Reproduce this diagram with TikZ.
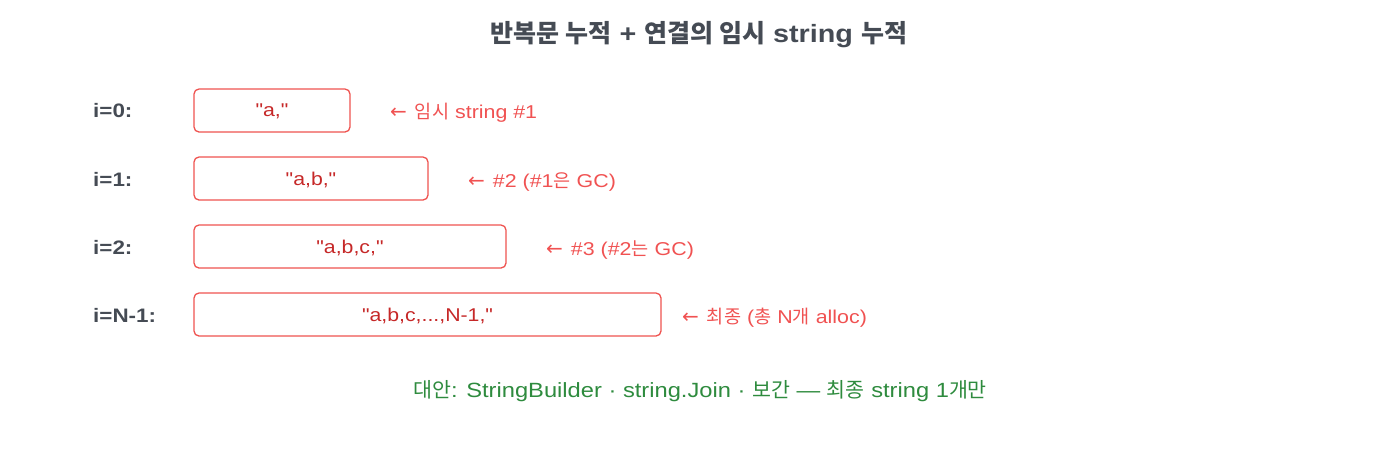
\documentclass[tikz,border=0pt]{standalone}
\usepackage{fontspec}
\setmainfont{Liberation Sans}[FakeStretch=1.15,Ligatures=TeXOff]
\newfontfamily\kr{Noto Sans CJK KR}
\newfontfamily\djvfont{DejaVu Sans}
\newcommand\larr{{\djvfont\fontsize{20}{22}\selectfont ←}\hspace{8pt}}
\definecolor{titlec}{HTML}{454B54}
\definecolor{boxred}{HTML}{EF5350}
\definecolor{boxtxt}{HTML}{C62828}
\definecolor{annred}{HTML}{F05252}
\definecolor{greenc}{HTML}{2E8B3E}
\begin{document}
\begin{tikzpicture}[x=1pt,y=-1pt,
  strbox/.style={draw=boxred,line width=1.3pt,rounded corners=5pt,fill=white},
  strtxt/.style={text=boxtxt,font=\fontsize{18.5}{22}\selectfont},
  rowlbl/.style={anchor=west,text=titlec,font=\fontsize{19.5}{22}\selectfont\bfseries,inner sep=0pt},
  ann/.style={anchor=west,text=annred,font=\fontsize{18.6}{22}\selectfont,inner sep=0pt}]
\useasboundingbox (0,0) rectangle (1400,448);
\node[text=titlec,font=\fontsize{25}{28}\selectfont\bfseries] (title) at (699,35) {{\kr 반복문 누적} + {\kr 연결의 임시} string {\kr 누적}};
% rows
\draw[strbox] (194,89) rectangle (350,132);
\node[strtxt] (b0) at (272,111.5) {"a,"};
\draw[strbox] (194,157) rectangle (428,200);
\node[strtxt] (b1) at (311,179.5) {"a,b,"};
\draw[strbox] (194,225) rectangle (506,268);
\node[strtxt] (b2) at (350,247.5) {"a,b,c,"};
\draw[strbox] (194,293) rectangle (661,336);
\node[strtxt] (b3) at (427.5,315.5) {"a,b,c,...,N-1,"};
\node[rowlbl] (l0) at (93,111) {i=0:};
\node[rowlbl] (l1) at (93,179) {i=1:};
\node[rowlbl] (l2) at (93,247) {i=2:};
\node[rowlbl] (l3) at (93,315) {i=N-1:};
\node[ann] (a0) at (390,113) {\larr{\kr 임시} string \#1};
\node[ann] (a1) at (468,182) {\larr\#2 (\#1{\kr 은} GC)};
\node[ann] (a2) at (546,250) {\larr\#3 (\#2{\kr 는} GC)};
\node[ann] (a3) at (682,318) {\larr{\kr 최종} ({\kr 총} N{\kr 개} alloc)};
\node[text=greenc,font=\fontsize{20.6}{24}\selectfont] (alt) at (700,391) {{\kr 대안}: StringBuilder · string.Join · {\kr 보간} — {\kr 최종} string 1{\kr 개만}};
\end{tikzpicture}
\end{document}
